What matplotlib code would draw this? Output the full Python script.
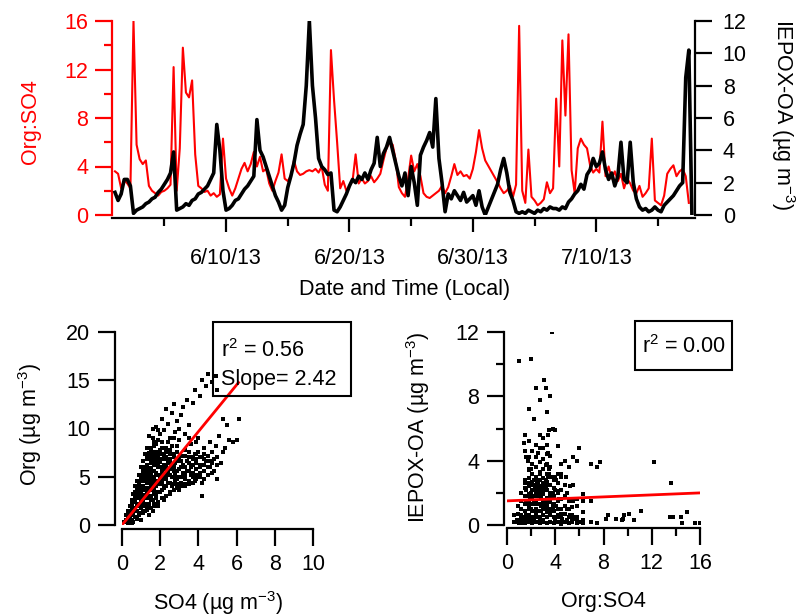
import numpy as np
import pandas as pd
import matplotlib
matplotlib.use('Agg')
import matplotlib.pyplot as plt
from matplotlib.patches import Rectangle

plt.rcParams['font.family'] = ['Liberation Sans', 'DejaVu Sans']
plt.rcParams['mathtext.default'] = 'regular'

# ---------------- data ----------------
start_date = '2013-06-01'
step = '6h'
nan = np.nan

org_so4 = [
    3.6, 3.4, 2.2, 2.9,   2.6, 2.2, 16.0, 5.8,   4.6, 4.2, 4.5, 2.4,   2.0, 1.8, 1.6, 1.9,
    2.0, 2.2, 2.5, 12.2,  2.0, 5.5, 13.8, 10.1,  9.7, 11.1, 5.0, 2.4,  2.2, 1.9, 2.0, 1.6,
    1.8, 1.5, 1.7, 6.3,   3.0, 2.2, 1.6, 2.2,    3.0, 3.8, 4.3, 3.6,   4.2, 5.2, 4.0, 4.8,
    3.6, 3.8, 2.6, 2.0,   2.8, 3.5, 5.0, 3.0,    2.8, 3.2, 4.5, 3.6,   3.3, 3.4, 3.6, 3.7,
    3.6, 3.8, 3.5, 4.0,   2.5, 2.0, 13.6, 9.5,   6.0, 2.2, 2.8, 2.0,   2.4, 2.8, 5.0, 2.6,
    3.0, 2.6, 2.8, 3.2,   2.7, 3.0, 3.4, 4.5,    5.5, 6.0, 5.8, 4.5,   2.3, 1.8, 1.5, 3.0,
    4.9, 3.6, 4.2, 3.2,   1.8, 1.5, 1.4, 1.6,    1.8, 2.0, 2.4, 1.8,   2.3, 3.2, 4.2, 3.3,
    3.6, 3.2, 3.3, 3.0,   3.8, 5.2, 7.0, 5.5,    4.5, nan, nan, nan,   2.7, 2.2, 1.8, 2.0,
    2.4, 1.5, 2.5, 15.6,  2.0, 1.0, 5.4, 1.5,    1.2, 0.8, 1.0, 1.3,   2.7, 1.8, 2.2, 9.6,
    4.0, 14.4, 8.2, 14.9, 3.7, 1.8, 5.5, 6.3,    5.8, 5.5, 4.1, 3.5,   3.8, 3.5, 7.7, 3.2,
    4.0, 3.0, 3.6, 2.8,   3.4, 2.2, 3.0, 2.6,    2.0, 1.8, 2.4, 1.5,   1.8, 2.2, 6.3, 1.2,
    1.0, 0.8, 1.6, 3.4,   3.8, 4.1, 3.2, 3.6,    3.8, 3.2, 1.0, nan,
]

iepox_oa = [
    1.4, 0.9, 1.3, 2.2,   2.2, 1.8, 0.1, 0.3,    0.4, 0.5, 0.7, 0.8,   1.0, 1.1, 1.4, 1.6,
    1.9, 2.2, 2.6, 3.9,   0.3, 0.4, 0.5, 0.7,    0.6, 0.9, 1.0, 1.3,   1.4, 1.6, 1.8, 2.2,
    2.6, 5.6, 4.0, 1.5,   0.3, 0.4, 0.6, 0.9,    1.0, 1.3, 1.6, 1.8,   2.1, 2.4, 5.9, 4.0,
    3.6, 3.0, 2.4, 1.8,   1.2, 0.8, 0.3, 0.6,    1.7, 2.4, 3.2, 4.3,   5.0, 5.6, 8.0, 12.0,
    8.0, 6.0, 3.5, 3.0,   2.8, 2.5, 2.6, 0.3,    0.2, 0.5, 0.9, 1.3,   1.8, 2.2, 2.0, 2.4,
    2.2, 2.6, 2.2, 2.8,   3.2, 4.8, 3.0, 3.8,    4.2, 4.8, 4.0, 3.2,   2.4, 1.8, 2.6, 1.2,
    3.0, 2.0, 0.6, 3.7,   4.2, 4.6, 5.1, 4.2,    7.2, 3.5, 2.0, 0.2,   1.3, 1.0, 1.5, 1.2,
    0.9, 1.4, 0.8, 1.0,   1.2, 0.6, 1.5, 0.5,    0.0, nan, nan, nan,   1.9, 2.8, 3.5, 2.6,
    1.4, 0.9, 0.2, 0.1,   0.2, 0.1, 0.3, 0.2,    0.1, 0.3, 0.2, 0.4,   0.3, 0.5, 0.4, 0.4,
    0.3, 0.5, 0.4, 0.8,   1.0, 1.3, 1.5, 1.9,    1.6, 2.5, 2.8, 3.5,   3.0, 3.2, 3.9, 2.8,
    2.2, 2.6, 1.8, 2.4,   4.5, 2.2, 2.0, 4.5,    2.0, 1.0, 0.5, 0.3,   0.4, 0.2, 0.3, 0.5,
    0.3, 0.2, 0.6, 0.8,   1.0, 1.2, 1.5, 1.8,    2.0, 8.5, 10.2, 0.0,
]

# additional points of the Org:SO4 vs IEPOX-OA cloud
ratio_pts = [
    0.6, 0.6, 0.9, 0.9, 0.9, 1.2, 1.2, 1.2, 1.2, 1.2, 1.5, 1.5, 1.5, 1.5, 1.5, 1.5, 1.5,
    1.8, 1.8, 1.8, 1.8, 1.8, 1.8, 1.8, 1.8, 2.1, 2.1, 2.1, 2.1, 2.1, 2.1, 2.1, 2.1, 2.1, 2.1,
    2.4, 2.4, 2.4, 2.4, 2.4, 2.4, 2.4, 2.4, 2.4, 2.4, 2.7, 2.7, 2.7, 2.7, 2.7, 2.7, 2.7, 2.7,
    2.7, 2.7, 2.7, 3.0, 3.0, 3.0, 3.0, 3.0, 3.0, 3.0, 3.0, 3.0, 3.0, 3.3, 3.3, 3.3, 3.3, 3.3,
    3.3, 3.3, 3.3, 3.3, 3.3, 3.6, 3.6, 3.6, 3.6, 3.6, 3.6, 3.6, 3.6, 3.9, 3.9, 3.9, 3.9, 3.9,
    3.9, 3.9, 4.2, 4.2, 4.2, 4.2, 4.2, 4.2, 4.2, 4.5, 4.5, 4.5, 4.5, 4.5, 4.5, 4.8, 4.8, 4.8,
    4.8, 4.8, 5.1, 5.1, 5.1, 5.1, 5.1, 5.4, 5.4, 5.4, 5.8, 5.8, 5.8, 6.3, 6.3, 6.3, 7.0, 7.0,
    7.5, 7.5, 2.0, 2.4, 3.1, 2.7, 3.3, 2.2, 3.5, 1.8, 4.2, 9.0, 10.5, 13.5, 14.5, 8.4,
]
iepox_pts = [
    0.2, 0.6, 0.2, 0.7, 1.2, 0.2, 0.6, 1.0, 1.5, 2.0, 0.1, 0.5, 0.9, 1.3, 1.8, 2.3, 2.8,
    0.2, 0.6, 1.0, 1.4, 1.9, 2.4, 2.9, 3.4, 0.1, 0.5, 0.9, 1.3, 1.7, 2.2, 2.7, 3.2, 3.8, 4.6,
    0.2, 0.6, 1.0, 1.5, 2.0, 2.5, 3.0, 3.6, 4.2, 5.0, 0.1, 0.5, 0.9, 1.3, 1.8, 2.3, 2.8, 3.3,
    3.9, 4.8, 5.6, 0.2, 0.6, 1.0, 1.4, 1.9, 2.4, 2.9, 3.5, 4.1, 5.4, 0.1, 0.5, 0.9, 1.3, 1.7,
    2.2, 2.7, 3.2, 3.8, 4.4, 0.2, 0.6, 1.0, 1.5, 2.0, 2.5, 3.0, 3.6, 0.1, 0.5, 0.9, 1.3, 1.8,
    2.3, 2.8, 0.2, 0.6, 1.0, 1.5, 2.0, 2.6, 3.2, 0.1, 0.5, 1.0, 1.6, 2.2, 3.0, 0.2, 0.7, 1.2,
    1.8, 2.5, 0.1, 0.5, 1.0, 1.5, 3.6, 0.2, 0.6, 1.1, 0.1, 0.5, 1.2, 0.1, 0.3, 0.8, 0.2, 3.8,
    0.1, 3.6, 10.3, 8.5, 9.0, 7.8, 7.0, 6.6, 5.9, 5.2, 4.9, 0.4, 0.3, 0.5, 0.1, 0.6,
]

so4_pts = [
    0.1, 0.2, 0.3, 0.4, 0.5, 0.5, 0.6, 0.7, 0.7, 0.8, 0.8, 0.9, 0.9, 1.0, 1.0, 1.0, 1.1, 1.1, 1.1, 1.2,
    1.2, 1.2, 1.3, 1.3, 1.3, 1.3, 1.4, 1.4, 1.4, 1.4, 1.5, 1.5, 1.5, 1.5, 1.5, 1.6, 1.6, 1.6, 1.6, 1.7,
    1.7, 1.7, 1.7, 1.8, 1.8, 1.8, 1.8, 1.8, 1.8, 1.9, 1.9, 1.9, 2.0, 2.0, 2.0, 2.0, 2.0, 2.1, 2.1, 2.1,
    2.1, 2.2, 2.2, 2.2, 2.2, 2.3, 2.3, 2.3, 2.3, 2.4, 2.4, 2.4, 2.5, 2.5, 2.5, 2.6, 2.6, 2.6, 2.6, 2.7,
    2.7, 2.7, 2.8, 2.8, 2.8, 2.9, 2.9, 2.9, 3.0, 3.0, 3.0, 3.0, 3.1, 3.1, 3.1, 3.2, 3.2, 3.2, 3.3, 3.3,
    3.3, 3.4, 3.4, 3.4, 3.5, 3.5, 3.5, 3.6, 3.6, 3.6, 3.7, 3.7, 3.8, 3.8, 3.8, 3.9, 3.9, 4.0, 4.0, 4.0,
    4.1, 4.1, 4.2, 4.2, 4.2, 4.3, 4.3, 4.4, 4.4, 4.5, 4.5, 4.5, 4.6, 4.6, 4.7, 4.7, 4.8, 4.8, 4.9, 4.9,
    5.0, 5.0, 5.1, 5.2, 5.3, 5.4, 5.6, 5.8, 6.0, 6.1, 5.5, 4.2, 5.0, 1.0, 0.6, 1.4, 1.6, 0.3, 0.8, 1.2,
    0.2, 0.3, 0.4, 0.5, 0.6, 0.7, 0.8, 0.9, 1.0, 1.1, 1.2, 1.3, 0.4, 0.6, 0.8, 1.0, 1.2, 1.4, 1.6, 1.8,
    2.0, 2.2, 2.4, 2.6, 2.8, 1.1, 1.3, 1.5, 1.7, 1.9, 2.1, 2.3, 2.5, 0.9, 1.5, 1.7, 1.9, 1.6, 1.4, 2.4,
    2.7, 3.0, 3.5, 3.9, 4.3, 4.6, 5.0, 5.3, 4.1, 3.7, 3.3, 2.9, 2.5, 2.2, 1.9, 0.5, 0.9, 1.1, 1.3, 1.7,
    0.3, 0.3, 0.5, 0.5, 0.5, 0.7, 0.7, 0.7, 0.7, 0.9, 0.9, 0.9, 0.9, 0.9, 1.1, 1.1, 1.1, 1.1, 1.1, 1.1,
    1.3, 1.3, 1.3, 1.3, 1.3, 1.3, 1.3, 1.5, 1.5, 1.5, 1.5, 1.5, 1.5, 1.5, 1.7, 1.7, 1.7, 1.7, 1.7, 1.7,
    1.7, 1.9, 1.9, 1.9, 1.9, 1.9, 1.9, 1.9, 2.1, 2.1, 2.1, 2.1, 2.1, 2.1, 2.1, 2.3, 2.3, 2.3, 2.3, 2.3,
    2.3, 2.5, 2.5, 2.5, 2.5, 2.5, 2.7, 2.7, 2.7, 2.7, 2.7, 2.9, 2.9, 2.9, 2.9, 2.9, 3.1, 3.1, 3.1, 3.1,
    3.3, 3.3, 3.3, 3.3, 3.5, 3.5, 3.5, 3.5, 3.7, 3.7, 3.7, 3.7, 3.9, 3.9, 3.9, 3.9, 4.1, 4.1, 4.1, 4.3,
    4.3, 4.3, 4.5, 4.5, 4.7, 4.7,
]
org_pts = [
    0.3, 0.5, 0.9, 1.2, 1.0, 1.8, 2.4, 1.5, 3.0, 2.2, 3.6, 2.8, 4.2, 1.8, 3.3, 4.8, 2.6, 4.0, 5.4, 3.1,
    4.6, 6.0, 2.2, 3.8, 5.2, 6.8, 3.0, 4.4, 5.8, 7.5, 2.6, 3.6, 5.0, 6.4, 8.0, 4.2, 5.6, 7.0, 9.0, 3.2,
    4.8, 6.2, 7.6, 2.8, 4.0, 5.4, 6.8, 8.4, 10.2, 4.6, 6.0, 7.2, 3.4, 5.0, 6.5, 7.8, 9.4, 4.2, 5.6, 8.6,
    11.0, 3.8, 6.2, 7.2, 9.8, 4.8, 5.8, 8.0, 12.0, 4.4, 6.6, 10.5, 5.2, 7.4, 9.0, 4.0, 6.0, 8.2, 11.6, 5.6,
    7.0, 12.5, 4.6, 6.4, 9.6, 5.0, 7.6, 10.8, 3.6, 5.8, 6.8, 8.8, 4.4, 7.2, 11.4, 5.4, 6.2, 12.2, 4.8, 7.8,
    9.4, 5.6, 6.6, 13.0, 4.2, 7.0, 10.4, 5.2, 6.0, 8.4, 6.8, 12.6, 4.6, 7.4, 14.0, 5.8, 6.4, 5.0, 7.6, 9.0,
    6.2, 13.4, 4.4, 7.0, 15.0, 5.6, 8.0, 6.6, 14.4, 5.2, 7.2, 15.6, 6.0, 8.6, 7.6, 14.8, 5.6, 6.8, 8.2, 15.4,
    7.0, 4.8, 9.2, 6.4, 11.0, 8.0, 8.8, 8.6, 8.8, 11.0, 10.4, 3.0, 14.0, 0.5, 0.3, 1.0, 1.5, 0.2, 0.6, 1.4,
    1.0, 1.5, 2.0, 2.6, 3.2, 4.0, 4.6, 5.2, 6.0, 6.6, 7.4, 8.0, 0.6, 1.2, 1.4, 2.4, 2.0, 2.2, 2.6, 3.2,
    4.2, 5.0, 5.4, 5.0, 5.4, 3.6, 4.4, 4.6, 5.6, 5.2, 6.8, 7.0, 6.4, 3.4, 7.2, 8.6, 9.8, 10.0, 9.2, 8.6,
    9.0, 10.0, 9.0, 8.6, 7.4, 6.6, 6.2, 7.6, 5.4, 5.0, 4.0, 4.2, 3.4, 2.6, 2.0, 0.2, 1.0, 1.2, 1.8, 2.2,
    0.6, 1.2, 0.5, 1.4, 2.2, 0.8, 1.8, 2.6, 3.4, 1.2, 2.0, 3.0, 3.8, 4.5, 1.4, 2.2, 3.0, 4.6, 5.0, 5.8,
    1.6, 2.8, 3.4, 4.8, 5.6, 6.2, 7.0, 1.8, 3.0, 4.0, 5.4, 5.9, 6.8, 7.6, 2.0, 3.6, 4.4, 5.0, 6.6, 7.2,
    8.2, 2.4, 3.4, 4.2, 6.4, 6.8, 7.6, 8.8, 2.8, 3.6, 4.6, 5.2, 6.0, 7.4, 8.0, 3.0, 4.0, 5.2, 6.2, 6.8,
    7.6, 3.2, 4.4, 5.8, 6.8, 7.8, 3.6, 4.2, 5.0, 6.0, 7.4, 3.8, 4.8, 5.6, 6.6, 8.2, 4.0, 5.0, 6.0, 6.6,
    4.2, 5.2, 6.0, 7.2, 4.6, 5.6, 6.4, 7.6, 4.4, 5.4, 6.2, 7.0, 4.8, 5.2, 6.8, 7.4, 5.0, 6.0, 7.0, 4.8,
    6.2, 6.8, 6.0, 6.6, 5.4, 6.4,
]

major_dates = ['2013-06-10', '2013-06-20', '2013-06-30', '2013-07-10']
major_labels = ['6/10/13', '6/20/13', '6/30/13', '7/10/13']
minor_dates = ['2013-06-05', '2013-06-15', '2013-06-25', '2013-07-05', '2013-07-15']

fit_left_slope, fit_left_icpt, fit_left_xmax = 2.42, 0.0, 6.1
fit_right_slope, fit_right_icpt, fit_right_xmax = 0.031, 1.5, 16.0
r2_left, r2_right = 0.56, 0.00

# ---------------- layout helpers ----------------
W, H = 798, 616
fig = plt.figure(figsize=(W / 100, H / 100), dpi=100)


def frac(l, t, r, b):
    return [l / W, 1 - b / H, (r - l) / W, (b - t) / H]


RED = '#ff0000'
FS = 15.5
LW = 1.6

# ---------------- top time series ----------------
times = pd.date_range(start_date, periods=len(org_so4), freq=step)
t = times.to_numpy()
r = np.array(org_so4, dtype=float)
b = np.array(iepox_oa, dtype=float)

ax1 = fig.add_axes(frac(112, 21, 695, 215))
ax2 = ax1.twinx()
mr = ~np.isnan(r)
mb = ~np.isnan(b)
ax1.plot(t[mr], r[mr], color=RED, lw=1.5, zorder=2)
ax2.plot(t[mb], b[mb], color='black', lw=2.6, zorder=3)

t0 = pd.Timestamp(start_date)
ax1.set_xlim(t0 - pd.Timedelta(hours=5.8), t0 + pd.Timedelta(days=47.0))
ax1.set_ylim(0, 16)
ax2.set_ylim(0, 12)

ax1.set_yticks([0, 4, 8, 12, 16])
ax1.set_yticks([2, 6, 10, 14], minor=True)
ax2.set_yticks([0, 2, 4, 6, 8, 10, 12])
ax1.set_xticks(pd.to_datetime(major_dates))
ax1.set_xticklabels(major_labels)
ax1.set_xticks(pd.to_datetime(minor_dates), minor=True)

for s in ['top', 'right']:
    ax1.spines[s].set_visible(False)
for s in ['top', 'left', 'bottom']:
    ax2.spines[s].set_visible(False)
ax1.spines['left'].set_color(RED)
ax1.spines['left'].set_linewidth(LW)
ax1.spines['bottom'].set_linewidth(LW)
ax1.spines['bottom'].set_position(('outward', 2))
ax2.spines['right'].set_linewidth(LW)

ax1.tick_params(axis='y', which='major', colors=RED, labelcolor=RED, length=12, width=LW,
                labelsize=FS, pad=5)
ax1.tick_params(axis='y', which='minor', colors=RED, length=6, width=LW)
ax1.tick_params(axis='x', which='major', length=10, width=LW, labelsize=FS, pad=12)
ax1.tick_params(axis='x', which='minor', length=6, width=LW)
ax2.tick_params(axis='y', which='major', length=12, width=LW, labelsize=FS, pad=8)

fig.text(30 / W, 1 - 122 / H, 'Org:SO4', color=RED, fontsize=FS, rotation=90,
         ha='center', va='center')
fig.text(783 / W, 1 - 115 / H, 'IEPOX-OA (µg m$^{-3}$)', fontsize=FS, rotation=270,
         ha='center', va='center')
fig.text(405 / W, 1 - 290 / H, 'Date and Time (Local)', fontsize=FS, ha='center', va='center')

# ---------------- bottom-left scatter ----------------
ax3 = fig.add_axes(frac(122, 332, 313, 525))
ax3.plot(so4_pts, org_pts, 's', color='black', ms=3.2, mew=0, zorder=2)
xl = np.array([0.0, fit_left_xmax])
ax3.plot(xl, fit_left_slope * xl + fit_left_icpt, color=RED, lw=2, zorder=3)
ax3.set_xlim(0, 10)
ax3.set_ylim(0, 20)
ax3.set_xticks([0, 2, 4, 6, 8, 10])
ax3.set_yticks([0, 5, 10, 15, 20])
for s in ['top', 'right']:
    ax3.spines[s].set_visible(False)
ax3.spines['left'].set_position(('outward', 5))
ax3.spines['bottom'].set_position(('outward', 3))
for s in ['left', 'bottom']:
    ax3.spines[s].set_linewidth(LW)
ax3.tick_params(which='major', length=12, width=LW, labelsize=FS, pad=6)

fig.text(30 / W, 1 - 425 / H, 'Org (µg m$^{-3}$)', fontsize=FS, rotation=90,
         ha='center', va='center')
fig.text(218 / W, 1 - 603 / H, 'SO4 (µg m$^{-3}$)', fontsize=FS, ha='center', va='center')

fig.add_artist(Rectangle((213 / W, 1 - 396 / H), 138 / W, 74 / H, transform=fig.transFigure,
                         fill=False, edgecolor='black', lw=1.5))
fig.text(221 / W, 1 - 351 / H, 'r$^{2}$ = %.2f' % r2_left, fontsize=FS, ha='left', va='center')
fig.text(221 / W, 1 - 379 / H, 'Slope= %.2f' % fit_left_slope, fontsize=FS, ha='left', va='center')

# ---------------- bottom-right scatter ----------------
ax4 = fig.add_axes(frac(507, 332, 700, 525))
mm = mr & mb
ax4.plot(r[mm], b[mm], 's', color='black', ms=3.2, mew=0, zorder=2)
ax4.plot(ratio_pts, iepox_pts, 's', color='black', ms=3.2, mew=0, zorder=2)
xr = np.array([0.0, fit_right_xmax])
ax4.plot(xr, fit_right_slope * xr + fit_right_icpt, color=RED, lw=2, zorder=3)
ax4.set_xlim(0, 16)
ax4.set_ylim(0, 12)
ax4.set_xticks([0, 4, 8, 12, 16])
ax4.set_xticks([2, 6, 10, 14], minor=True)
ax4.set_yticks([0, 4, 8, 12])
ax4.set_yticks([2, 6, 10], minor=True)
for s in ['top', 'right']:
    ax4.spines[s].set_visible(False)
ax4.spines['left'].set_position(('outward', 2))
ax4.spines['bottom'].set_position(('outward', 2))
for s in ['left', 'bottom']:
    ax4.spines[s].set_linewidth(LW)
ax4.tick_params(which='major', length=12, width=LW, labelsize=FS, pad=6)
ax4.tick_params(which='minor', length=6, width=LW)

fig.text(418 / W, 1 - 427 / H, 'IEPOX-OA (µg m$^{-3}$)', fontsize=FS, rotation=90,
         ha='center', va='center')
fig.text(603 / W, 1 - 601 / H, 'Org:SO4', fontsize=FS, ha='center', va='center')

fig.add_artist(Rectangle((635 / W, 1 - 370 / H), 97 / W, 49 / H, transform=fig.transFigure,
                         fill=False, edgecolor='black', lw=1.5))
fig.text(642 / W, 1 - 347 / H, 'r$^{2}$ = %.2f' % r2_right, fontsize=FS, ha='left', va='center')

fig.savefig('out.png', dpi=100)
